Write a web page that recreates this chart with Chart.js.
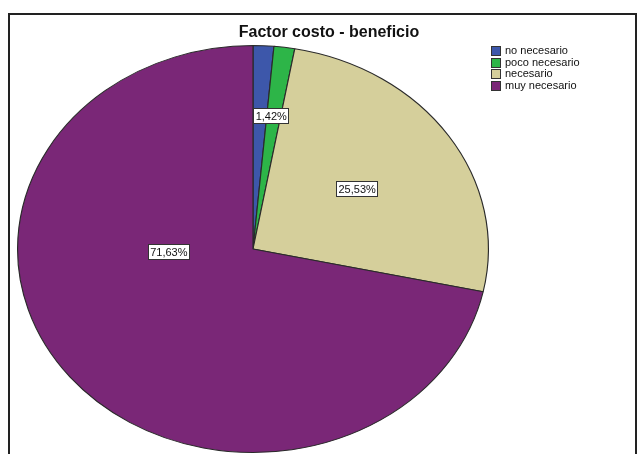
<!DOCTYPE html>
<html>
<head>
<meta charset="utf-8">
<script src="https://cdn.jsdelivr.net/npm/chart.js@4/dist/chart.umd.min.js"></script>
<style>
  html, body { margin: 0; padding: 0; background: #fff; }
  #wrap { width: 638px; height: 454px; position: relative; }
</style>
</head>
<body>
<div id="wrap"><canvas id="pieChart" width="638" height="454"></canvas></div>
<script>
// Data
const categories = ['no necesario', 'poco necesario', 'necesario', 'muy necesario'];
const percentages = [1.42, 1.42, 25.53, 71.63];
const sliceColors = ['#3D57AA', '#2DB548', '#D5CF9B', '#7A2777'];
const chartTitle = 'Factor costo - beneficio';

// Label placement (fraction of radius, extra angle in degrees); null = hidden (overlap)
const labelRadius = [0.66, null, 0.53, 0.36];
const labelAngleShift = [4, 0, 0, 36.6];

const stretchX = 236 / 204; // SPSS draws the pie as an ellipse

const fmt = v => v.toFixed(2).replace('.', ',') + '%';

const ellipsePlugin = {
    id: 'ellipse',
    beforeDatasetsDraw(chart) {
        const arc = chart.getDatasetMeta(0).data[0];
        const ctx = chart.ctx;
        ctx.save();
        ctx.translate(arc.x, arc.y);
        ctx.scale(stretchX, 1);
        ctx.translate(-arc.x, -arc.y);
    },
    afterDatasetsDraw(chart) {
        chart.ctx.restore();
    }
};

const decorPlugin = {
    id: 'decor',
    beforeDraw(chart) {
        const ctx = chart.ctx;
        ctx.save();
        ctx.fillStyle = '#fff';
        ctx.fillRect(0, 0, chart.width, chart.height);
        // frame
        ctx.strokeStyle = '#222';
        ctx.lineWidth = 2;
        ctx.strokeRect(9, 14, 627, 460);
        ctx.restore();
    },
    afterDraw(chart) {
        const ctx = chart.ctx;
        const meta = chart.getDatasetMeta(0);
        ctx.save();

        // title
        ctx.fillStyle = '#111';
        ctx.font = 'bold 16px "Liberation Sans", Arial, sans-serif';
        ctx.textAlign = 'center';
        ctx.textBaseline = 'middle';
        ctx.fillText(chartTitle, 329, 33);

        // legend
        ctx.font = '11px "Liberation Sans", Arial, sans-serif';
        ctx.textAlign = 'left';
        categories.forEach((name, i) => {
            const y = Math.round(46 + i * 11.7);
            ctx.fillStyle = sliceColors[i];
            ctx.fillRect(491, y, 9, 9);
            ctx.strokeStyle = '#333';
            ctx.lineWidth = 1;
            ctx.strokeRect(491.5, y + 0.5, 9, 9);
            ctx.fillStyle = '#111';
            ctx.fillText(name, 505, y + 5);
        });

        // percentage labels
        ctx.textAlign = 'center';
        meta.data.forEach((arc, i) => {
            if (labelRadius[i] === null) return;
            const mid = (arc.startAngle + arc.endAngle) / 2 + labelAngleShift[i] * Math.PI / 180;
            const r = arc.outerRadius * labelRadius[i];
            const x = arc.x + Math.cos(mid) * r * stretchX;
            const y = arc.y + Math.sin(mid) * r;
            const text = fmt(percentages[i]);
            const w = ctx.measureText(text).width + 4;
            const h = 15;
            ctx.fillStyle = '#fff';
            ctx.fillRect(Math.round(x - w / 2), Math.round(y - h / 2), Math.round(w), h);
            ctx.strokeStyle = '#333';
            ctx.lineWidth = 1;
            ctx.strokeRect(Math.round(x - w / 2) + 0.5, Math.round(y - h / 2) + 0.5, Math.round(w), h);
            ctx.fillStyle = '#111';
            ctx.fillText(text, x + 0.5, y + 1);
        });
        ctx.restore();
    }
};

new Chart(document.getElementById('pieChart'), {
    type: 'pie',
    data: {
        labels: categories,
        datasets: [{
            data: percentages,
            backgroundColor: sliceColors,
            borderColor: '#2a2a2a',
            borderWidth: 1
        }]
    },
    options: {
        responsive: false,
        animation: false,
        layout: {
            padding: { top: 45, bottom: 1, left: 49, right: 181 }
        },
        plugins: {
            legend: { display: false },
            title: { display: false },
            tooltip: { enabled: false }
        }
    },
    plugins: [ellipsePlugin, decorPlugin]
});
</script>
</body>
</html>
